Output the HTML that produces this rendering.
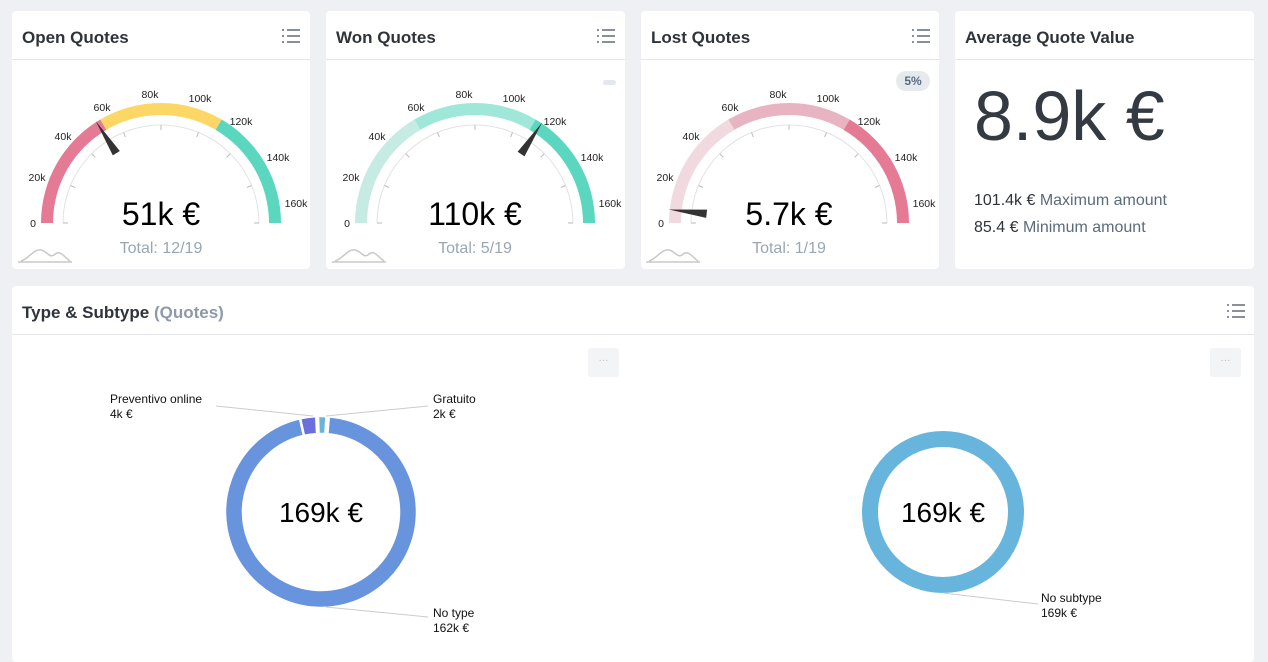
<!DOCTYPE html>
<html><head><meta charset="utf-8"><style>
body{margin:0;width:1268px;height:662px;background:#eef0f3;font-family:"Liberation Sans",sans-serif;position:relative;overflow:hidden}
.card{position:absolute;background:#fff;border-radius:4px}
.hd{position:absolute;left:0;right:0;top:0;height:48px;border-bottom:1px solid #e4e6ea}
.hd b{position:absolute;left:10px;top:17px;font-size:17px;color:#2f333a}
.menu{position:absolute;right:10px;top:18px;width:18px;height:14px}
.menu i{position:absolute;left:0;width:2px;height:2px;background:#8a9099}
.menu s{position:absolute;left:5px;width:13px;height:2px;background:#8a9099}
svg{position:absolute;left:0;top:0}
</style></head><body>
<div class="card" style="left:12px;top:11px;width:298px;height:258px"><div class="hd"><b>Open Quotes</b></div></div>
<div class="card" style="left:326px;top:11px;width:299px;height:258px"><div class="hd"><b>Won Quotes</b></div></div>
<div class="card" style="left:641px;top:11px;width:298px;height:258px"><div class="hd"><b>Lost Quotes</b></div></div>
<div class="card" style="left:955px;top:11px;width:299px;height:258px"><div class="hd"><b>Average Quote Value</b></div>
<div style="position:absolute;left:19px;top:65px;font-size:70px;color:#343a42">8.9k €</div>
<div style="position:absolute;left:19px;top:181px;font-size:16px;color:#2f333a">101.4k € <span style="color:#5b6b7d">Maximum amount</span></div>
<div style="position:absolute;left:19px;top:208px;font-size:16px;color:#2f333a">85.4 € <span style="color:#5b6b7d">Minimum amount</span></div>
</div>
<div class="card" style="left:12px;top:286px;width:1242px;height:376px"><div class="hd"><b>Type &amp; Subtype <span style="color:#8c9aab">(Quotes)</span></b></div>
<div style="position:absolute;left:576px;top:62px;width:31px;height:29px;background:#f3f4f5;border-radius:3px;color:#bbb;font-size:10px;text-align:center;line-height:26px">···</div>
<div style="position:absolute;left:1198px;top:62px;width:31px;height:29px;background:#f3f4f5;border-radius:3px;color:#bbb;font-size:10px;text-align:center;line-height:26px">···</div>
</div>
<div style="position:absolute;left:603px;top:80px;width:13px;height:5px;background:#e4e8ee;border-radius:3px"></div>
<div style="position:absolute;left:896px;top:71px;width:34px;height:20px;background:#e6eaef;border-radius:10px;font-size:12px;font-weight:bold;color:#5b6b7d;text-align:center;line-height:20px">5%</div>
<svg id="s" width="1268" height="662" font-family="Liberation Sans, sans-serif"></svg>
<script>
var s=document.getElementById('s'),h='';
function P(cx,cy,r,a){return [cx+r*Math.cos(a),cy+r*Math.sin(a)];}
function arc(cx,cy,r1,r2,v1,v2,c){var a1=Math.PI+v1/160*Math.PI,a2=Math.PI+v2/160*Math.PI;var p=P(cx,cy,r2,a1),q=P(cx,cy,r2,a2),u=P(cx,cy,r1,a2),w=P(cx,cy,r1,a1);
h+='<path d="M'+p+' A'+r2+','+r2+' 0 0 1 '+q+' L'+u+' A'+r1+','+r1+' 0 0 0 '+w+'Z" fill="'+c+'"/>';}
var L=[[-128,227],[-124,181],[-98,140],[-59,111],[-11,98],[39,102],[80,125],[117,161],[135,207]];
function gauge(cx,cols,val,main,tot){var cy=223;
arc(cx,cy,108,120,0,53,cols[0]);arc(cx,cy,108,120,53,107,cols[1]);arc(cx,cy,108,120,107,160,cols[2]);
h+='<path d="M'+(cx-98)+','+cy+' A98,98 0 0 1 '+(cx+98)+','+cy+'" fill="none" stroke="#e2e2e2"/>';
for(var i=0;i<=8;i++){var a=Math.PI+i/8*Math.PI;var p=P(cx,cy,98,a),q=P(cx,cy,93,a);h+='<line x1="'+p[0]+'" y1="'+p[1]+'" x2="'+q[0]+'" y2="'+q[1]+'" stroke="#bbb"/>';}
for(var i=0;i<=8;i++){var t=i?i*20+'k':'0';
h+='<text x="'+(cx+L[i][0])+'" y="'+L[i][1]+'" font-size="10.5" text-anchor="middle" fill="#222">'+t+'</text>';}
var a=Math.PI+val/160*Math.PI,t=P(cx,cy,121,a),b1=P(cx,cy,83,a-0.05),b2=P(cx,cy,83,a+0.05);
h+='<path d="M'+t+' L'+b1+' L'+b2+'Z" fill="#333"/>';
h+='<text x="'+cx+'" y="225" font-size="32" text-anchor="middle" fill="#000">'+main+'</text>';
h+='<text x="'+cx+'" y="253" font-size="16" text-anchor="middle" fill="#9aa6b3">'+tot+'</text>';
var x=cx-143;h+='<path d="M'+x+',262 L'+(x+54)+',262 M'+(x+3)+',261 C'+(x+12)+',258 '+(x+15)+',249 '+(x+23)+',250 C'+(x+29)+',251 '+(x+31)+',258 '+(x+36)+',255 C'+(x+42)+',249 '+(x+45)+',256 '+(x+52)+',261" fill="none" stroke="#c8c8c8" stroke-width="1.5"/>';}
gauge(161,['#e57a95','#fdd766','#5bd6bf'],51,'51k €','Total: 12/19');
gauge(475,['#c6ebe3','#9fe8d9','#5bd6bf'],110,'110k €','Total: 5/19');
gauge(789,['#f0dae0','#e8b4c1','#e57a95'],5.7,'5.7k €','Total: 1/19');
function ring(cx,cy,r1,r2,v1,v2,c){var a1=-Math.PI/2+v1*2*Math.PI,a2=-Math.PI/2+v2*2*Math.PI;var p=P(cx,cy,r2,a1),q=P(cx,cy,r2,a2),u=P(cx,cy,r1,a2),w=P(cx,cy,r1,a1);var l=(v2-v1)>0.5?1:0;
h+='<path d="M'+p+' A'+r2+','+r2+' 0 '+l+' 1 '+q+' L'+u+' A'+r1+','+r1+' 0 '+l+' 0 '+w+'Z" fill="'+c+'" stroke="#fff" stroke-width="2.5" stroke-linejoin="round"/>';}
ring(321,512,78,96,0.013,0.965,'#6893dd');ring(321,512,78,96,0.965,0.992,'#6a6fdc');ring(321,512,78,96,0.995,1.009,'#6ab4dc');
h+='<circle cx="943" cy="512" r="73" fill="none" stroke="#67b5dc" stroke-width="16"/>';
h+='<text x="321" y="522" font-size="28" text-anchor="middle">169k €</text><text x="943" y="522" font-size="28" text-anchor="middle">169k €</text>';
h+='<g stroke="#ccc" fill="none"><path d="M216,406 L313,416"/><path d="M428,406 L326,416"/><path d="M326,607 L428,617"/><path d="M943,593 L1038,604"/></g>';
h+='<g font-size="12" fill="#111"><text x="110" y="403">Preventivo online</text><text x="110" y="418">4k €</text><text x="433" y="403">Gratuito</text><text x="433" y="418">2k €</text><text x="433" y="617">No type</text><text x="433" y="632">162k €</text><text x="1041" y="602">No subtype</text><text x="1041" y="617">169k €</text></g>';
s.innerHTML=h;
</script>
<div style="position:absolute;top:0;left:0">
<div class="menu" style="left:282px;top:29px"><i style="top:0"></i><s style="top:0"></s><i style="top:6px"></i><s style="top:6px"></s><i style="top:12px"></i><s style="top:12px"></s></div>
<div class="menu" style="left:597px;top:29px"><i style="top:0"></i><s style="top:0"></s><i style="top:6px"></i><s style="top:6px"></s><i style="top:12px"></i><s style="top:12px"></s></div>
<div class="menu" style="left:912px;top:29px"><i style="top:0"></i><s style="top:0"></s><i style="top:6px"></i><s style="top:6px"></s><i style="top:12px"></i><s style="top:12px"></s></div>
<div class="menu" style="left:1227px;top:304px"><i style="top:0"></i><s style="top:0"></s><i style="top:6px"></i><s style="top:6px"></s><i style="top:12px"></i><s style="top:12px"></s></div>
</div>
</body></html>
